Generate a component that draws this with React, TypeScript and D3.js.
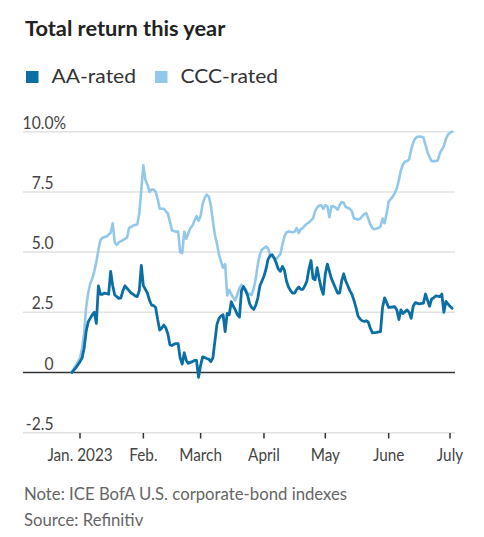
import React from "react";
import * as d3 from "d3";

const title = "Total return this year";
const seriesNames = ["AA-rated", "CCC-rated"];
const seriesColors = ["#0b6fa6", "#94c8eb"];
const yTicks = [10, 7.5, 5, 2.5, 0, -2.5];
const yTickLabels = ["10.0", "7.5", "5.0", "2.5", "0", "-2.5"];
const xTickDates = ["2023-01-01", "2023-02-01", "2023-03-01", "2023-04-01", "2023-05-01", "2023-06-01", "2023-07-01"];
const xTickLabels = ["Jan. 2023", "Feb.", "March", "April", "May", "June", "July"];
const notes = ["Note: ICE BofA U.S. corporate-bond indexes", "Source: Refinitiv"];

const aaSeries: [string, number][] = [
  ["2022-12-28", 0], ["2022-12-30", 0.2], ["2023-01-01", 0.45], ["2023-01-02", 0.6], ["2023-01-03", 1.0],
  ["2023-01-04", 1.7], ["2023-01-05", 2.1], ["2023-01-06", 2.25], ["2023-01-07", 2.4], ["2023-01-08", 2.5],
  ["2023-01-09", 2.04], ["2023-01-10", 3.6], ["2023-01-11", 3.25], ["2023-01-12", 3.25], ["2023-01-13", 3.3],
  ["2023-01-14", 3.28], ["2023-01-15", 3.25], ["2023-01-16", 4.2], ["2023-01-17", 3.6], ["2023-01-18", 3.22],
  ["2023-01-19", 3.15], ["2023-01-20", 3.08], ["2023-01-21", 3.1], ["2023-01-22", 3.4], ["2023-01-23", 3.6],
  ["2023-01-24", 3.5], ["2023-01-25", 3.4], ["2023-01-26", 3.3], ["2023-01-27", 3.25], ["2023-01-28", 3.18],
  ["2023-01-29", 3.15], ["2023-01-30", 3.4], ["2023-01-31", 4.45], ["2023-02-01", 3.6], ["2023-02-02", 3.45],
  ["2023-02-03", 3.29], ["2023-02-04", 3.0], ["2023-02-05", 2.8], ["2023-02-06", 2.78], ["2023-02-07", 2.7],
  ["2023-02-08", 2.2], ["2023-02-09", 1.76], ["2023-02-10", 1.85], ["2023-02-11", 1.97], ["2023-02-12", 1.85],
  ["2023-02-13", 1.6], ["2023-02-14", 1.15], ["2023-02-15", 1.12], ["2023-02-16", 1.18], ["2023-02-17", 1.2],
  ["2023-02-18", 1.2], ["2023-02-19", 0.6], ["2023-02-20", 0.35], ["2023-02-21", 0.82], ["2023-02-22", 0.5],
  ["2023-02-23", 0.38], ["2023-02-24", 0.42], ["2023-02-25", 0.45], ["2023-02-26", 0.5], ["2023-02-27", 0.5],
  ["2023-02-28", -0.2], ["2023-03-01", 0.3], ["2023-03-02", 0.65], ["2023-03-03", 0.62], ["2023-03-04", 0.58],
  ["2023-03-05", 0.55], ["2023-03-06", 0.45], ["2023-03-07", 0.6], ["2023-03-08", 1.3], ["2023-03-09", 2.0],
  ["2023-03-10", 2.25], ["2023-03-11", 2.35], ["2023-03-12", 2.4], ["2023-03-13", 1.7], ["2023-03-14", 2.45],
  ["2023-03-15", 2.4], ["2023-03-16", 2.94], ["2023-03-17", 2.75], ["2023-03-18", 2.6], ["2023-03-19", 2.4],
  ["2023-03-20", 2.3], ["2023-03-21", 3.4], ["2023-03-22", 3.57], ["2023-03-23", 3.4], ["2023-03-24", 3.2],
  ["2023-03-25", 2.85], ["2023-03-26", 2.7], ["2023-03-27", 2.62], ["2023-03-28", 2.8], ["2023-03-29", 3.1],
  ["2023-03-30", 3.6], ["2023-03-31", 3.8], ["2023-04-01", 4.0], ["2023-04-02", 4.3], ["2023-04-03", 4.7],
  ["2023-04-04", 4.85], ["2023-04-05", 4.89], ["2023-04-06", 4.75], ["2023-04-07", 4.55], ["2023-04-08", 4.3],
  ["2023-04-09", 4.2], ["2023-04-10", 4.4], ["2023-04-11", 4.25], ["2023-04-12", 3.8], ["2023-04-13", 3.55],
  ["2023-04-14", 3.4], ["2023-04-15", 3.3], ["2023-04-16", 3.3], ["2023-04-17", 3.45], ["2023-04-18", 3.55],
  ["2023-04-19", 3.45], ["2023-04-20", 3.45], ["2023-04-21", 3.6], ["2023-04-22", 3.8], ["2023-04-23", 4.3],
  ["2023-04-24", 4.65], ["2023-04-25", 3.9], ["2023-04-26", 3.85], ["2023-04-27", 4.35], ["2023-04-28", 3.9],
  ["2023-04-29", 3.5], ["2023-04-30", 3.25], ["2023-05-01", 4.1], ["2023-05-02", 4.5], ["2023-05-03", 4.2],
  ["2023-05-04", 3.9], ["2023-05-05", 3.7], ["2023-05-06", 3.5], ["2023-05-07", 3.3], ["2023-05-08", 3.3],
  ["2023-05-09", 3.8], ["2023-05-10", 4.1], ["2023-05-11", 3.8], ["2023-05-12", 3.6], ["2023-05-13", 3.4],
  ["2023-05-14", 3.25], ["2023-05-15", 3.0], ["2023-05-16", 2.7], ["2023-05-17", 2.35], ["2023-05-18", 2.22],
  ["2023-05-19", 2.15], ["2023-05-20", 2.12], ["2023-05-21", 2.15], ["2023-05-22", 2.1], ["2023-05-23", 1.85],
  ["2023-05-24", 1.65], ["2023-05-26", 1.67], ["2023-05-28", 1.7], ["2023-05-29", 2.7], ["2023-05-30", 3.1],
  ["2023-05-31", 2.9], ["2023-06-01", 2.7], ["2023-06-03", 2.72], ["2023-06-04", 2.73], ["2023-06-05", 2.6],
  ["2023-06-06", 2.2], ["2023-06-07", 2.6], ["2023-06-08", 2.45], ["2023-06-10", 2.6], ["2023-06-11", 2.5],
  ["2023-06-12", 2.25], ["2023-06-13", 2.75], ["2023-06-14", 2.9], ["2023-06-16", 2.85], ["2023-06-18", 2.88],
  ["2023-06-19", 3.26], ["2023-06-20", 3.0], ["2023-06-21", 2.75], ["2023-06-22", 3.05], ["2023-06-23", 3.1],
  ["2023-06-24", 3.18], ["2023-06-26", 3.15], ["2023-06-27", 3.26], ["2023-06-28", 2.5], ["2023-06-29", 2.95],
  ["2023-06-30", 2.85], ["2023-07-01", 2.75], ["2023-07-02", 2.67],
];

const cccSeries: [string, number][] = [
  ["2022-12-28", 0], ["2022-12-30", 0.3], ["2023-01-01", 0.6], ["2023-01-02", 1.0], ["2023-01-03", 1.6],
  ["2023-01-04", 2.7], ["2023-01-05", 3.3], ["2023-01-06", 3.7], ["2023-01-07", 3.9], ["2023-01-08", 4.2],
  ["2023-01-09", 4.6], ["2023-01-10", 5.1], ["2023-01-11", 5.5], ["2023-01-12", 5.6], ["2023-01-14", 5.65],
  ["2023-01-16", 5.8], ["2023-01-17", 6.2], ["2023-01-18", 5.4], ["2023-01-19", 5.3], ["2023-01-20", 5.4],
  ["2023-01-22", 5.5], ["2023-01-24", 5.6], ["2023-01-25", 6.0], ["2023-01-27", 6.1], ["2023-01-29", 6.15],
  ["2023-01-30", 6.6], ["2023-01-31", 7.6], ["2023-02-01", 8.6], ["2023-02-02", 8.0], ["2023-02-03", 7.8],
  ["2023-02-04", 7.5], ["2023-02-05", 7.6], ["2023-02-06", 7.6], ["2023-02-07", 7.5], ["2023-02-08", 7.2],
  ["2023-02-09", 6.8], ["2023-02-11", 6.8], ["2023-02-13", 6.6], ["2023-02-15", 5.9], ["2023-02-17", 5.85],
  ["2023-02-18", 5.85], ["2023-02-19", 5.0], ["2023-02-20", 4.96], ["2023-02-21", 5.85], ["2023-02-22", 5.55],
  ["2023-02-24", 6.0], ["2023-02-25", 6.1], ["2023-02-26", 6.3], ["2023-02-27", 6.5], ["2023-02-28", 6.3],
  ["2023-03-01", 6.5], ["2023-03-02", 7.0], ["2023-03-03", 7.25], ["2023-03-04", 7.39], ["2023-03-05", 7.3],
  ["2023-03-06", 6.95], ["2023-03-07", 6.3], ["2023-03-08", 5.7], ["2023-03-09", 5.35], ["2023-03-10", 4.9],
  ["2023-03-11", 4.6], ["2023-03-12", 4.35], ["2023-03-13", 4.5], ["2023-03-14", 3.2], ["2023-03-15", 3.43],
  ["2023-03-16", 3.25], ["2023-03-17", 3.1], ["2023-03-18", 3.0], ["2023-03-20", 3.5], ["2023-03-21", 3.64],
  ["2023-03-22", 3.55], ["2023-03-23", 3.45], ["2023-03-24", 3.3], ["2023-03-26", 3.22], ["2023-03-27", 3.5],
  ["2023-03-28", 3.9], ["2023-03-29", 4.5], ["2023-03-30", 4.9], ["2023-03-31", 5.1], ["2023-04-01", 5.17],
  ["2023-04-02", 5.23], ["2023-04-03", 5.15], ["2023-04-04", 4.9], ["2023-04-05", 4.82], ["2023-04-06", 4.75],
  ["2023-04-07", 4.7], ["2023-04-08", 4.82], ["2023-04-09", 4.9], ["2023-04-10", 5.3], ["2023-04-11", 5.65],
  ["2023-04-12", 5.82], ["2023-04-13", 5.86], ["2023-04-15", 5.82], ["2023-04-16", 5.85], ["2023-04-17", 6.0],
  ["2023-04-18", 5.79], ["2023-04-19", 5.95], ["2023-04-20", 6.0], ["2023-04-21", 6.1], ["2023-04-22", 6.18],
  ["2023-04-23", 6.23], ["2023-04-25", 6.4], ["2023-04-26", 6.7], ["2023-04-27", 6.85], ["2023-04-28", 6.93],
  ["2023-04-29", 6.95], ["2023-04-30", 6.8], ["2023-05-01", 6.95], ["2023-05-02", 6.9], ["2023-05-03", 6.45],
  ["2023-05-04", 6.9], ["2023-05-05", 6.9], ["2023-05-06", 6.85], ["2023-05-07", 6.76], ["2023-05-08", 6.95],
  ["2023-05-09", 7.08], ["2023-05-10", 7.05], ["2023-05-11", 6.87], ["2023-05-13", 6.8], ["2023-05-14", 6.7],
  ["2023-05-15", 6.4], ["2023-05-16", 6.38], ["2023-05-17", 6.35], ["2023-05-18", 6.38], ["2023-05-19", 6.48],
  ["2023-05-20", 6.58], ["2023-05-21", 6.62], ["2023-05-22", 6.4], ["2023-05-23", 6.15], ["2023-05-24", 6.0],
  ["2023-05-25", 5.95], ["2023-05-27", 6.0], ["2023-05-28", 6.07], ["2023-05-29", 6.39], ["2023-05-30", 6.2],
  ["2023-05-31", 6.6], ["2023-06-01", 7.1], ["2023-06-02", 7.2], ["2023-06-03", 7.3], ["2023-06-04", 7.45],
  ["2023-06-05", 7.65], ["2023-06-06", 8.0], ["2023-06-07", 8.4], ["2023-06-08", 8.65], ["2023-06-09", 8.75],
  ["2023-06-10", 8.78], ["2023-06-11", 8.85], ["2023-06-12", 9.25], ["2023-06-13", 9.55], ["2023-06-14", 9.72],
  ["2023-06-15", 9.79], ["2023-06-17", 9.8], ["2023-06-18", 9.75], ["2023-06-19", 9.45], ["2023-06-20", 9.15],
  ["2023-06-21", 8.95], ["2023-06-22", 8.78], ["2023-06-24", 8.78], ["2023-06-25", 8.8], ["2023-06-26", 9.1],
  ["2023-06-27", 9.25], ["2023-06-28", 9.4], ["2023-06-29", 9.7], ["2023-06-30", 9.88], ["2023-07-01", 9.95],
  ["2023-07-02", 10.0],
];

const W = 484;
const H = 537;
const FONT = "Lato, 'Noto Sans', sans-serif";
const parse = d3.timeParse("%Y-%m-%d");

function T(props: { x: number; y: number; sx?: number; anchor?: string; size: number; weight?: number | string; fill: string; children: React.ReactNode }) {
  const { x, y, sx = 1, anchor = "start", size, weight = 400, fill, children } = props;
  return (
    <g transform={`translate(${x},${y}) scale(${sx},1)`}>
      <text x={0} y={0} textAnchor={anchor} fontSize={size} fontWeight={weight} fill={fill} fontFamily={FONT}>
        {children}
      </text>
    </g>
  );
}

export default function App() {
  const x = d3
    .scaleTime()
    .domain([parse("2023-01-01")!, parse("2023-07-01")!])
    .range([80, 450]);
  const y = d3.scaleLinear().domain([-2.5, 10]).range([432.7, 131.7]);
  const line = d3
    .line<[string, number]>()
    .x((d) => x(parse(d[0])!))
    .y((d) => y(d[1]));

  const gridX0 = 23;
  const gridX1 = 455;

  return (
    <svg width={W} height={H} style={{ position: "absolute", left: 0, top: 0, background: "#fff" }}>
      <rect width={W} height={H} fill="#fff" />
      <T x={25} y={35.5} size={20} weight={700} fill="#222" sx={1.09}>
        {title}
      </T>
      {seriesNames.map((n, i) => {
        const lx = [26, 155][i];
        return (
          <g key={n}>
            <rect x={lx} y={71} width={12.5} height={12} fill={seriesColors[i]} />
            <T x={lx + 25.5} y={83.3} size={19.5} fill="#333" sx={1.08}>
              {n}
            </T>
          </g>
        );
      })}
      {yTicks.map((v) =>
        v === 0 ? null : (
          <line key={"g" + v} x1={gridX0} x2={gridX1} y1={y(v)} y2={y(v)} stroke="#e2e2e2" strokeWidth={1.5} />
        )
      )}
      {yTicks.map((v, i) => (
        <g key={"yl" + v}>
          <T x={53.5} y={y(v) - 3} anchor="end" size={17} fill="#444" sx={0.92}>
            {yTickLabels[i]}
          </T>
          {i === 0 ? (
            <T x={53.5} y={y(v) - 3} size={17} fill="#444" sx={0.92}>
              %
            </T>
          ) : null}
        </g>
      ))}
      {xTickDates.map((d, i) => {
        const px = x(parse(d)!);
        return (
          <g key={d}>
            <line x1={px} x2={px} y1={433} y2={438.5} stroke="#333" strokeWidth={1.5} />
            <T x={px} y={460.5} anchor="middle" size={17} fill="#444" sx={0.9}>
              {xTickLabels[i]}
            </T>
          </g>
        );
      })}
      <line x1={gridX0} x2={gridX1} y1={y(0)} y2={y(0)} stroke="#333" strokeWidth={1.5} />
      <path d={line(cccSeries) || ""} fill="none" stroke={seriesColors[1]} strokeWidth={2.6} strokeLinejoin="round" strokeLinecap="round" />
      <path d={line(aaSeries) || ""} fill="none" stroke={seriesColors[0]} strokeWidth={2.8} strokeLinejoin="round" strokeLinecap="round" />
      {notes.map((t, i) => (
        <T key={t} x={24} y={[500, 525.5][i]} size={18} fill="#666" sx={0.93}>
          {t}
        </T>
      ))}
    </svg>
  );
}
